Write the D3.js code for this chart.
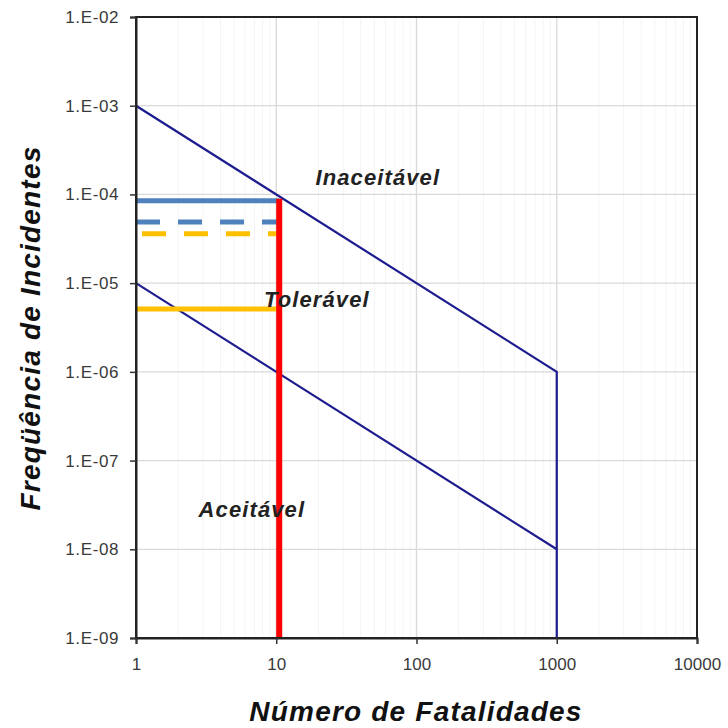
<!DOCTYPE html>
<html><head><meta charset="utf-8">
<script src="https://cdn.jsdelivr.net/npm/d3@7"></script>
<style>body{margin:0;background:#fff}svg{display:block}</style>
</head><body>
<script>
const xTicks = [1, 10, 100, 1000, 10000];
const yTicks = [1e-9, 1e-8, 1e-7, 1e-6, 1e-5, 1e-4, 1e-3, 1e-2];
const yTickLabels = ["1.E-09","1.E-08","1.E-07","1.E-06","1.E-05","1.E-04","1.E-03","1.E-02"];
// Upper boundary (Inaceitável / Tolerável)
const upperX = [1, 1000, 1000];
const upperY = [1e-3, 1e-6, 1e-9];
// Lower boundary (Tolerável / Aceitável)
const lowerX = [1, 1000];
const lowerY = [1e-5, 1e-8];
// Horizontal risk lines
const riskNames = ["blueSolid", "blueDashed", "orangeDashed", "orangeSolid"];
const riskFreq = [8.5e-5, 4.9e-5, 3.6e-5, 5.1e-6];
const riskStart = 1, riskEnd = 10.5;
// Red vertical line
const redX = 10.5, redTop = 8.5e-5, redBottom = 1e-9;
const regionLabels = ["Inaceitável", "Tolerável", "Aceitável"];
const regionX = [53, 19.5, 6.7];
const regionY = [1.28e-4, 5.4e-6, 2.3e-8];

const W = 728, H = 728;
const m = {l:136, t:17, r:697, b:638};
const FONT = "Liberation Sans, Arial, sans-serif";
const svg = d3.select("body").append("svg").attr("width", W).attr("height", H);
const x = d3.scaleLog().domain([1, 10000]).range([m.l, m.r]);
const y = d3.scaleLog().domain([1e-9, 1e-2]).range([m.b, m.t]);

// minor faint vertical grid
const minor = [];
for (let d = 1; d < 10000; d *= 10) for (let k = 2; k <= 9; k++) minor.push(d * k);
svg.append("g").selectAll("line").data(minor).join("line")
  .attr("x1", d => x(d)).attr("x2", d => x(d)).attr("y1", m.t).attr("y2", m.b)
  .attr("stroke", "#f4f4f4").attr("stroke-width", 1);
// major grid
svg.append("g").selectAll("line").data(xTicks.slice(1, -1)).join("line")
  .attr("x1", d => x(d)).attr("x2", d => x(d)).attr("y1", m.t).attr("y2", m.b)
  .attr("stroke", "#d9d9d9").attr("stroke-width", 1.3);
svg.append("g").selectAll("line").data(yTicks.slice(1, -1)).join("line")
  .attr("x1", m.l).attr("x2", m.r).attr("y1", d => y(d)).attr("y2", d => y(d))
  .attr("stroke", "#d9d9d9").attr("stroke-width", 1.3);

const line = d3.line().x(d => x(d[0])).y(d => y(d[1]));
svg.append("path").attr("d", line(upperX.map((v, i) => [v, upperY[i]])))
  .attr("fill", "none").attr("stroke", "#1c1c8f").attr("stroke-width", 2.2);
svg.append("path").attr("d", line(lowerX.map((v, i) => [v, lowerY[i]])))
  .attr("fill", "none").attr("stroke", "#1c1c8f").attr("stroke-width", 2.2);

const riskColor = {blueSolid:"#4f81bd", blueDashed:"#4f81bd", orangeDashed:"#ffc000", orangeSolid:"#ffc000"};
const riskDash = {blueSolid:null, blueDashed:"24,18", orangeDashed:"24,18", orangeSolid:null};
const riskOffset = {blueSolid:0, blueDashed:0, orangeDashed:-6, orangeSolid:0};
svg.append("g").selectAll("line").data(riskNames).join("line")
  .attr("x1", x(riskStart)).attr("x2", x(riskEnd))
  .attr("y1", (d, i) => y(riskFreq[i])).attr("y2", (d, i) => y(riskFreq[i]))
  .attr("stroke", d => riskColor[d]).attr("stroke-width", 5)
  .attr("stroke-dasharray", d => riskDash[d])
  .attr("stroke-dashoffset", d => riskOffset[d]);

svg.append("line").attr("x1", x(redX)).attr("x2", x(redX))
  .attr("y1", y(redTop) - 2).attr("y2", y(redBottom))
  .attr("stroke", "#ff0000").attr("stroke-width", 6);

// frame
svg.append("rect").attr("x", m.l).attr("y", m.t).attr("width", m.r - m.l).attr("height", m.b - m.t)
  .attr("fill", "none").attr("stroke", "#222").attr("stroke-width", 2);

// axes
const yAxis = d3.axisLeft(y).tickValues(yTicks).tickFormat((d, i) => yTickLabels[i]).tickSize(6).tickPadding(11);
const gy = svg.append("g").attr("transform", `translate(${m.l},0)`).call(yAxis);
const xAxis = d3.axisBottom(x).tickValues(xTicks).tickFormat(d3.format("d")).tickSize(6).tickPadding(14);
const gx = svg.append("g").attr("transform", `translate(0,${m.b})`).call(xAxis);
[gx, gy].forEach(g => {
  g.select(".domain").attr("stroke", "#222").attr("stroke-width", 2);
  g.selectAll(".tick line").attr("stroke", "#333").attr("stroke-width", 1.5);
  g.selectAll(".tick text").attr("font-family", FONT)
    .attr("font-size", 17).attr("fill", "#3a3a3a");
});
gy.selectAll(".tick text").attr("letter-spacing", 0.6);

svg.append("g").selectAll("text").data(regionLabels).join("text")
  .attr("x", (d, i) => x(regionX[i])).attr("y", (d, i) => y(regionY[i]))
  .attr("text-anchor", "middle")
  .attr("font-family", FONT).attr("font-weight", "bold")
  .attr("font-style", "italic").attr("font-size", 22).attr("letter-spacing", 1.1).attr("fill", "#222")
  .text(d => d);

svg.append("text").attr("x", 416).attr("y", 721).attr("text-anchor", "middle")
  .attr("font-family", FONT).attr("font-weight", "bold")
  .attr("font-style", "italic").attr("font-size", 28).attr("letter-spacing", 1.2).attr("fill", "#111")
  .text("Número de Fatalidades");
svg.append("text").attr("transform", `translate(40,${328}) rotate(-90)`)
  .attr("text-anchor", "middle")
  .attr("font-family", FONT).attr("font-weight", "bold")
  .attr("font-style", "italic").attr("font-size", 28).attr("letter-spacing", 1.2).attr("fill", "#111")
  .text("Freqüência de Incidentes");
</script>
</body></html>
